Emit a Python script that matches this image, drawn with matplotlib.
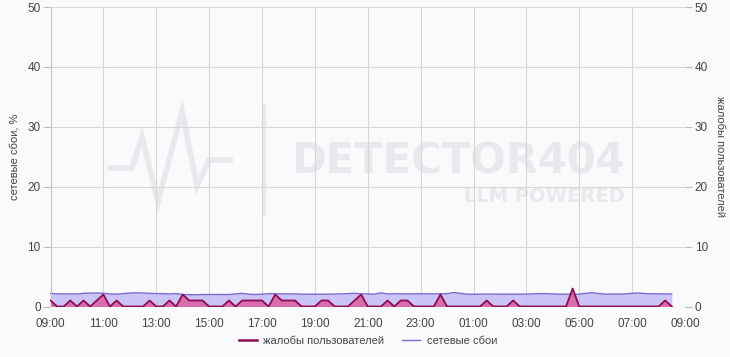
import matplotlib
matplotlib.use("Agg")
import matplotlib.pyplot as plt
import matplotlib.dates as mdates
from matplotlib.lines import Line2D
import pandas as pd
import numpy as np

plt.rcParams['font.family'] = ['Liberation Sans', 'DejaVu Sans']

# 15-minute samples, 09:00 .. 08:30 next day
times = pd.date_range('2024-01-01 09:00', periods=95, freq='15min')

# сетевые сбои, %
network = [2.17, 2.12, 2.10, 2.10, 2.08, 2.20, 2.25, 2.25,
           2.20, 2.10, 2.05, 2.15, 2.25, 2.28, 2.25, 2.20,
           2.15, 2.15, 2.10, 2.15, 2.00, 1.98, 1.95, 2.00,
           2.00, 2.00, 2.00, 2.00, 2.10, 2.20, 2.05, 2.00,
           2.05, 2.15, 2.12, 2.12, 2.10, 2.10, 2.05, 2.05,
           2.05, 2.05, 2.05, 2.08, 2.10, 2.15, 2.20, 2.10,
           2.10, 2.05, 2.28, 2.10, 2.12, 2.12, 2.10, 2.12,
           2.12, 2.12, 2.10, 2.12, 2.15, 2.33, 2.20, 2.05,
           2.05, 2.05, 2.08, 2.06, 2.06, 2.06, 2.06, 2.06,
           2.06, 2.10, 2.15, 2.15, 2.10, 2.06, 2.06, 2.06,
           2.06, 2.20, 2.30, 2.15, 2.06, 2.08, 2.06, 2.10,
           2.20, 2.25, 2.15, 2.12, 2.12, 2.10, 2.08]

# жалобы пользователей
complaints = [1, 0, 0, 1, 0, 1, 0, 1,
              2, 0, 1, 0, 0, 0, 0, 1,
              0, 0, 1, 0, 2, 1, 1, 1,
              0, 0, 0, 1, 0, 1, 1, 1,
              1, 0, 2, 1, 1, 1, 0, 0,
              0, 1, 1, 0, 0, 0, 1, 2,
              0, 0, 0, 1, 0, 1, 1, 0,
              0, 0, 0, 2, 0, 0, 0, 0,
              0, 0, 1, 0, 0, 0, 1, 0,
              0, 0, 0, 0, 0, 0, 0, 3,
              0, 0, 0, 0, 0, 0, 0, 0,
              0, 0, 0, 0, 0, 1, 0]

bg = '#f9fafb'
txt = '#444444'
grid_c = '#d6d6d6'

fig = plt.figure(figsize=(7.3, 3.57), dpi=100, facecolor=bg)
ax = fig.add_axes([50.5 / 730, 50.5 / 357, 634.5 / 730, 299.5 / 357])
ax.set_facecolor('none')

# watermark
wm = '#e7e9ec'
def px(x, y):
    return x / 730, 1 - y / 357
lx = [110, 132, 142, 158, 182, 197, 209, 230]
ly = [168, 168, 137, 202, 111, 186, 160, 160]
fig.add_artist(Line2D([px(x, 0)[0] for x in lx], [px(0, y)[1] for y in ly],
                      color=wm, lw=4, zorder=-1, solid_joinstyle='miter'))
fig.add_artist(Line2D([px(264, 0)[0]] * 2, [px(0, 105)[1], px(0, 214)[1]],
                      color=wm, lw=2.5, zorder=-1))
fig.text(px(458, 162)[0], px(0, 162)[1], 'DETECTOR404', fontsize=30, fontweight='bold',
         color=wm, ha='center', va='center', zorder=-1, family='DejaVu Sans')
fig.text(px(625, 197)[0], px(0, 197)[1], 'LLM POWERED', fontsize=14, fontweight='bold',
         color=wm, ha='right', va='center', zorder=-1, family='DejaVu Sans')

ax.fill_between(times, network, 0, color='#c6bef6', alpha=0.9, lw=0)
ax.plot(times, network, color='#7a6ad0', lw=1.0)

ax2 = ax.twinx()
ax2.fill_between(times, complaints, 0, color='#dc4f98', alpha=0.75, lw=0)
ax2.plot(times, complaints, color='#8e0b4e', lw=1.3)

x0 = pd.Timestamp('2024-01-01 09:00')
x1 = pd.Timestamp('2024-01-02 09:00')
for a in (ax, ax2):
    a.set_ylim(0, 50)
    a.set_yticks(range(0, 51, 10))
    a.set_xlim(x0, x1)
    for s in a.spines.values():
        s.set_visible(False)
    a.tick_params(axis='y', length=5, width=0.8, color='#bbbbbb', labelsize=8.5,
                  labelcolor=txt, pad=2)

ax.xaxis.set_major_locator(mdates.HourLocator(byhour=range(1, 24, 2)))
ax.xaxis.set_major_formatter(mdates.DateFormatter('%H:%M'))
ax.tick_params(axis='x', length=0, labelsize=8.5, labelcolor=txt, pad=8)
ax.grid(True, color=grid_c, lw=0.8)
ax.set_axisbelow(True)
ax.axvline(x1, color=grid_c, lw=0.8)
ax.axvline(x0, color='#c4c4c4', lw=0.8)
ax.axhline(0, color='#c4c4c4', lw=0.8)

ax.set_ylabel('сетевые сбои, %', fontsize=8, color=txt, labelpad=6)
ax2.set_ylabel('жалобы пользователей', fontsize=8, color=txt, rotation=270, labelpad=12)

handles = [Line2D([], [], color='#8e0b4e', lw=1.8), Line2D([], [], color='#7a6ad0', lw=1.0)]
fig.legend(handles, ['жалобы пользователей', 'сетевые сбои'], loc='center',
           bbox_to_anchor=(368 / 730, 1 - 341 / 357), ncol=2, frameon=False,
           fontsize=8, labelcolor=txt, handlelength=1.6, columnspacing=1.6,
           handletextpad=0.6)

fig.savefig('out.png', dpi=100, facecolor=bg)
